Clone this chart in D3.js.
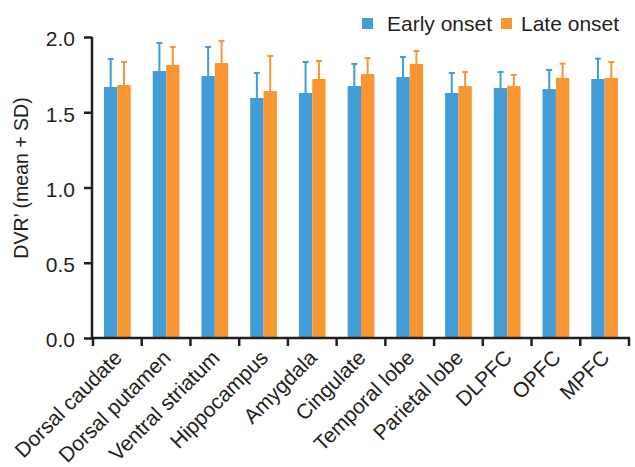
<!DOCTYPE html>
<html><head><meta charset="utf-8">
<script src="https://cdn.jsdelivr.net/npm/d3@7"></script>
<style>body{margin:0;background:#fff}svg{display:block;font-family:"Liberation Sans",Arial,sans-serif}</style>
</head><body>
<svg id="c" width="635" height="467"></svg>
<script>
const categories = ["Dorsal caudate","Dorsal putamen","Ventral striatum","Hippocampus","Amygdala","Cingulate","Temporal lobe","Parietal lobe","DLPFC","OPFC","MPFC"];
const seriesNames = ["Early onset","Late onset"];
const earlyMean = [1.668,1.774,1.741,1.595,1.628,1.674,1.734,1.628,1.661,1.654,1.721];
const earlyTop  = [1.854,1.960,1.934,1.761,1.834,1.821,1.867,1.761,1.767,1.781,1.856];
const lateMean  = [1.681,1.814,1.827,1.641,1.721,1.754,1.821,1.674,1.674,1.728,1.728];
const lateTop   = [1.834,1.934,1.973,1.874,1.841,1.860,1.907,1.767,1.748,1.823,1.834];
const yTicks = [0,0.5,1.0,1.5,2.0];
const colors = ["#429cd6","#f79633"];
const ink = "#231f20";

const svg = d3.select("#c");
const x0 = d3.scaleBand().domain(categories).range([93,629]).paddingInner(0).paddingOuter(0);
const x1 = d3.scaleBand().domain(seriesNames).range([11, x0.bandwidth()-11]);
const y = d3.scaleLinear().domain([0,2]).range([338,37]);

const data = categories.map((c,i)=>({c, vals:[
  {s:seriesNames[0], m:earlyMean[i], t:earlyTop[i], col:colors[0]},
  {s:seriesNames[1], m:lateMean[i], t:lateTop[i], col:colors[1]}]}));

const g = svg.append("g").selectAll("g").data(data).join("g")
  .attr("transform", d=>`translate(${x0(d.c)},0)`);
g.selectAll("rect").data(d=>d.vals).join("rect")
  .attr("x", d=>x1(d.s)).attr("width", x1.bandwidth())
  .attr("y", d=>y(d.m)).attr("height", d=>y(0)-y(d.m)).attr("fill", d=>d.col);
g.selectAll("line.err").data(d=>d.vals).join("line").attr("class","err")
  .attr("x1", d=>x1(d.s)+x1.bandwidth()/2).attr("x2", d=>x1(d.s)+x1.bandwidth()/2)
  .attr("y1", d=>y(d.m)).attr("y2", d=>y(d.t)).attr("stroke", d=>d.col).attr("stroke-width",2);
g.selectAll("line.cap").data(d=>d.vals).join("line").attr("class","cap")
  .attr("x1", d=>x1(d.s)+x1.bandwidth()/2-3).attr("x2", d=>x1(d.s)+x1.bandwidth()/2+3)
  .attr("y1", d=>y(d.t)).attr("y2", d=>y(d.t)).attr("stroke", d=>d.col).attr("stroke-width",2);

// y axis
const ya = svg.append("g").attr("transform","translate(92,0)")
  .call(d3.axisLeft(y).tickValues(yTicks).tickFormat(d3.format(".1f")).tickSize(8).tickPadding(9));
ya.select(".domain").attr("stroke",ink).attr("stroke-width",2.5).attr("d","M0,37V339");
ya.selectAll(".tick line").attr("stroke",ink).attr("stroke-width",2.5);
ya.selectAll(".tick text").attr("font-size",21).attr("dy","0.42em").attr("fill",ink).attr("font-family","Liberation Sans, Arial, sans-serif");

// x axis
const xa = svg.append("g").attr("transform","translate(0,338)");
xa.append("line").attr("x1",91).attr("x2",630).attr("y1",0).attr("y2",0).attr("stroke",ink).attr("stroke-width",2.5);
const bounds = categories.map(c=>x0(c)).concat([x0.range()[1]]);
xa.selectAll("line.t").data(bounds).join("line").attr("class","t")
  .attr("x1",d=>d).attr("x2",d=>d).attr("y1",0).attr("y2",8).attr("stroke",ink).attr("stroke-width",2.5);
xa.selectAll("text").data(categories).join("text")
  .attr("transform", d=>`translate(${x0(d)+x0.bandwidth()/2+6},${21}) rotate(-45)`)
  .attr("text-anchor","end").attr("font-size",21).attr("fill",ink).text(d=>d);

// y label
svg.append("text").attr("transform","translate(28,178) rotate(-90)").attr("text-anchor","middle")
  .attr("font-size",19.5).attr("fill",ink).text("DVR’ (mean + SD)");

// legend
const leg = svg.append("g");
const legX = [362, 501];
seriesNames.forEach((s,i)=>{
  leg.append("rect").attr("x",legX[i]).attr("y",18).attr("width",11).attr("height",11).attr("fill",colors[i]);
  leg.append("text").attr("x",legX[i]+(i===0?25:20)).attr("y",31).attr("font-size",21).attr("fill",ink).text(s);
});
</script>
</body></html>
